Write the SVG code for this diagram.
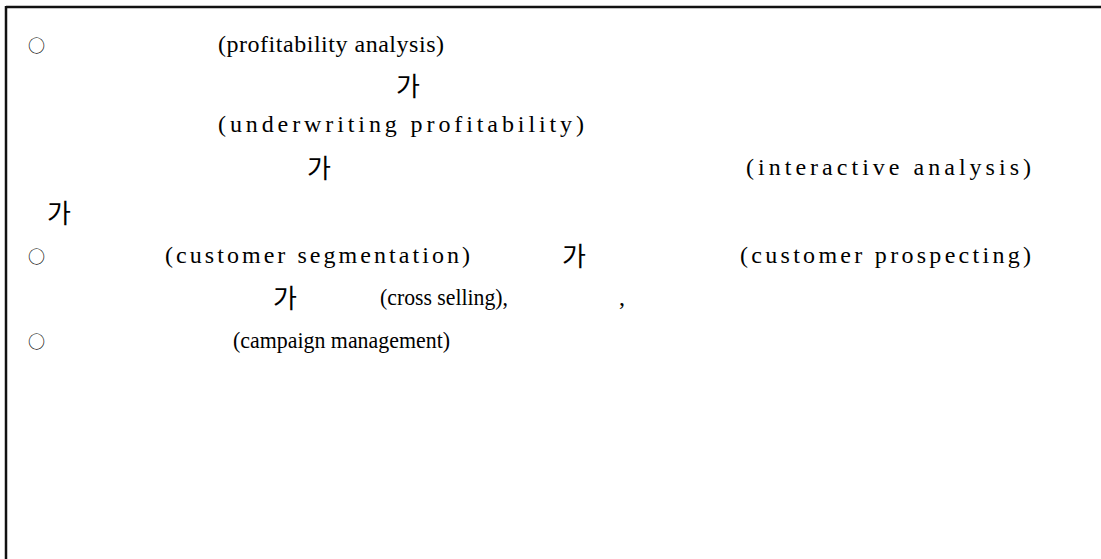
<svg xmlns="http://www.w3.org/2000/svg" width="1101" height="559" viewBox="0 0 1101 559">
<style>
.lat{font-family:"Liberation Serif","Times New Roman",serif;font-size:24px;fill:#000}
.ko{font-family:"Noto Sans CJK KR","Noto Sans",sans-serif;font-size:26px;fill:#000}
.bul{font-family:"Noto Sans CJK KR","DejaVu Sans",sans-serif;font-size:17px;fill:#000}
</style>
<rect width="1101" height="559" fill="#fff"/>
<g id="frame">
<line x1="6" y1="7" x2="1101" y2="7" stroke="#111" stroke-width="2.5"/>
<line x1="6" y1="6" x2="6" y2="559" stroke="#111" stroke-width="2.5"/>
</g>
<g id="line1">
<text class="bul" x="28" y="52">○</text>
<text class="lat" x="218" y="52" textLength="226" lengthAdjust="spacing">(profitability analysis)</text>
</g>
<g id="line2"><text class="ko" x="396" y="96">가</text></g>
<g id="line3"><text class="lat" x="218" y="132" textLength="366" lengthAdjust="spacing">(underwriting profitability)</text></g>
<g id="line4">
<text class="ko" x="307" y="178">가</text>
<text class="lat" x="746" y="175" textLength="285" lengthAdjust="spacing">(interactive analysis)</text>
</g>
<g id="line5"><text class="ko" x="47" y="223">가</text></g>
<g id="line6">
<text class="bul" x="28" y="263">○</text>
<text class="lat" x="165" y="263" textLength="305" lengthAdjust="spacing">(customer segmentation)</text>
<text class="ko" x="562" y="266">가</text>
<text class="lat" x="740" y="263" textLength="291" lengthAdjust="spacing">(customer prospecting)</text>
</g>
<g id="line7">
<text class="ko" x="273" y="308">가</text>
<text class="lat" x="380" y="305" textLength="128" lengthAdjust="spacingAndGlyphs">(cross selling),</text>
<text class="lat" x="619" y="305">,</text>
</g>
<g id="line8">
<text class="bul" x="28" y="348">○</text>
<text class="lat" x="233" y="348" textLength="217" lengthAdjust="spacingAndGlyphs">(campaign management)</text>
</g>
</svg>
